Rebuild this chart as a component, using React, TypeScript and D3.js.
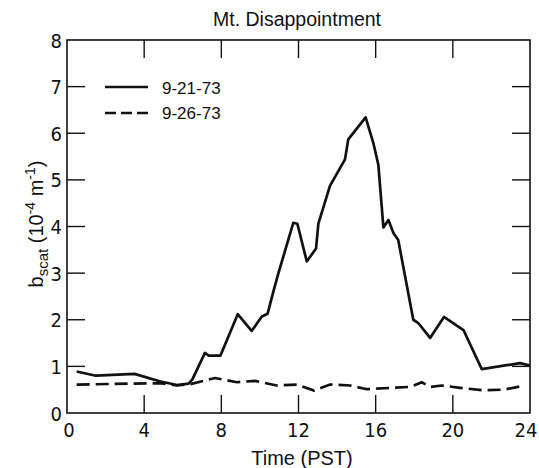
import React from "react";
import * as d3 from "d3";

const W = 539;
const H = 468;
const margin = { top: 40, right: 9, bottom: 55, left: 67 };

// 9-21-73 (solid)
const sepT21 = [0.5, 1.5, 3.5, 4.8, 5.7, 6.3, 6.5, 7.15, 7.35, 7.95, 8.85, 9.57, 10.1, 10.4, 10.7, 10.96, 11.73, 11.94, 12.43, 12.91, 13.03, 13.46, 13.63, 14.41, 14.58, 15.48, 15.88, 16.14, 16.4, 16.66, 16.92, 17.17, 17.95, 18.21, 18.82, 19.54, 20.55, 21.5, 23.48, 24];
const sepV21 = [0.89, 0.8, 0.84, 0.68, 0.6, 0.63, 0.72, 1.29, 1.23, 1.23, 2.12, 1.76, 2.07, 2.13, 2.61, 3.0, 4.08, 4.06, 3.25, 3.53, 4.06, 4.64, 4.87, 5.44, 5.87, 6.34, 5.79, 5.32, 3.98, 4.14, 3.86, 3.71, 2.0, 1.93, 1.61, 2.06, 1.78, 0.94, 1.07, 1.02];

// 9-26-73 (dashed)
const sepT26 = [0.5, 4.8, 5.7, 6.4, 7.67, 8.8, 9.75, 10.87, 11.91, 12.8, 13.63, 14.67, 15.54, 17.78, 18.39, 18.82, 19.42, 20.37, 21.5, 22.62, 23.48];
const sepV26 = [0.61, 0.64, 0.59, 0.62, 0.75, 0.66, 0.69, 0.59, 0.61, 0.48, 0.61, 0.59, 0.51, 0.56, 0.66, 0.56, 0.59, 0.54, 0.49, 0.5, 0.57];

const xTicks = [0, 4, 8, 12, 16, 20, 24];
const yTicks = [0, 1, 2, 3, 4, 5, 6, 7, 8];
const legendLabels = ["9-21-73", "9-26-73"];

const fontMain = "'Liberation Sans', Arial, sans-serif";
const fontNarrow = "'DejaVu Sans', sans-serif";

export default function App() {
  const x = d3.scaleLinear().domain([0, 24]).range([margin.left, W - margin.right]);
  const y = d3.scaleLinear().domain([0, 8]).range([H - margin.bottom, margin.top]);

  const lineGen = d3
    .line<[number, number]>()
    .x((d) => x(d[0]))
    .y((d) => y(d[1]));
  const path21 = lineGen(sepT21.map((t, i) => [t, sepV21[i]]));
  const path26 = lineGen(sepT26.map((t, i) => [t, sepV26[i]]));

  const x0 = x(0), x1 = x(24), yb = y(0), yt = y(8);
  const tk = 18;

  return (
    <svg
      width={W}
      height={H}
      style={{ position: "absolute", left: 0, top: 0, background: "#fff" }}
    >
      <text x={297} y={26} textAnchor="middle" fontFamily={fontMain} fontSize={19.5} fill="#111">
        Mt. Disappointment
      </text>

      {/* frame */}
      <rect x={x0} y={yt} width={x1 - x0} height={yb - yt} fill="none" stroke="#111" strokeWidth={1.6} />

      {/* x ticks, top and bottom, inward */}
      {xTicks.slice(1, -1).map((t) => (
        <g key={"xt" + t}>
          <line x1={x(t)} x2={x(t)} y1={yb} y2={yb - tk} stroke="#111" strokeWidth={1.4} />
          <line x1={x(t)} x2={x(t)} y1={yt} y2={yt + tk} stroke="#111" strokeWidth={1.4} />
        </g>
      ))}
      {xTicks.map((t) => (
        <text
          key={"xl" + t}
          x={x(t) + (t === 0 ? 2 : t === 24 ? -4 : 0)}
          y={437}
          textAnchor="middle"
          fontFamily={fontNarrow}
          fontStretch="condensed"
          fontSize={20}
          fill="#111"
        >
          {t}
        </text>
      ))}

      {/* y ticks left and right, inward */}
      {yTicks.slice(1, -1).map((v) => (
        <g key={"yt" + v}>
          <line x1={x0} x2={x0 + tk} y1={y(v)} y2={y(v)} stroke="#111" strokeWidth={1.4} />
          <line x1={x1} x2={x1 - tk} y1={y(v)} y2={y(v)} stroke="#111" strokeWidth={1.4} />
        </g>
      ))}
      {yTicks.map((v) => (
        <text
          key={"yl" + v}
          x={62}
          y={y(v) + 7.5}
          textAnchor="end"
          fontFamily={fontNarrow}
          fontStretch="condensed"
          fontSize={20}
          fill="#111"
        >
          {v}
        </text>
      ))}

      {/* axis titles */}
      <text x={302} y={465} textAnchor="middle" fontFamily={fontMain} fontSize={20} fill="#111">
        Time (PST)
      </text>
      <text
        transform="translate(43,224) rotate(-90)"
        textAnchor="middle"
        fontFamily={fontMain}
        fontSize={20}
        fill="#111"
      >
        <tspan>b</tspan>
        <tspan dy={5} fontSize={15}>scat</tspan>
        <tspan dy={-5}> (10</tspan>
        <tspan dy={-8} fontSize={14}>-4</tspan>
        <tspan dy={8}> m</tspan>
        <tspan dy={-8} fontSize={14}>-1</tspan>
        <tspan dy={8}>)</tspan>
      </text>

      {/* data */}
      <path d={path21 ?? ""} fill="none" stroke="#111" strokeWidth={2.7} strokeLinejoin="round" />
      <path d={path26 ?? ""} fill="none" stroke="#111" strokeWidth={2.7} strokeDasharray="13,6" />

      {/* legend */}
      <line x1={105} x2={148} y1={87} y2={87} stroke="#111" strokeWidth={2.4} />
      <line x1={105} x2={148} y1={113} y2={113} stroke="#111" strokeWidth={2.4} strokeDasharray="11,5" />
      {legendLabels.map((l, i) => (
        <text key={l} x={162} y={93.5 + i * 25} fontFamily={fontMain} fontSize={17} fill="#111">
          {l}
        </text>
      ))}
    </svg>
  );
}
